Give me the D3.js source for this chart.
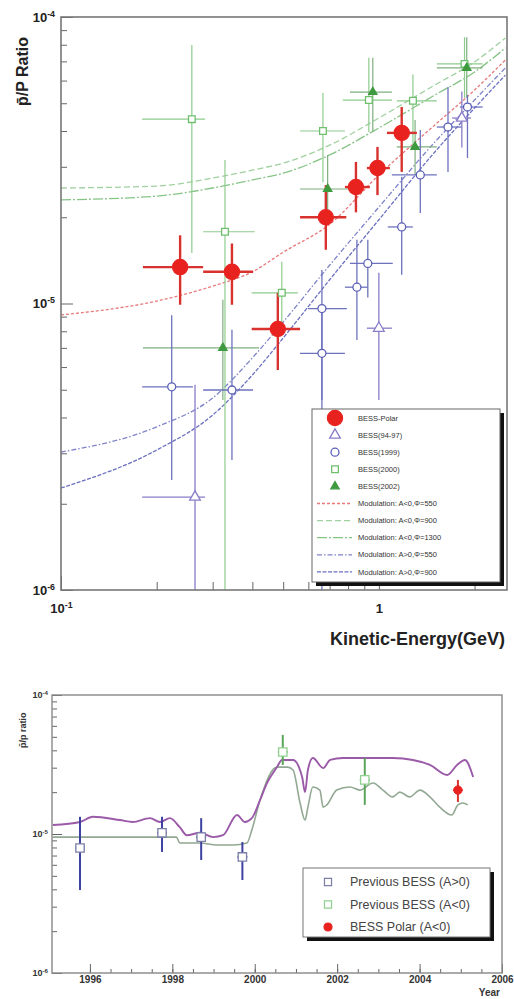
<!DOCTYPE html>
<html>
<head>
<meta charset="utf-8">
<script src="https://cdn.jsdelivr.net/npm/d3@7"></script>
<style>
  body { margin: 0; background: #fff; }
  svg { display: block; font-family: "Liberation Sans", Arial, sans-serif; }
</style>
</head>
<body>
<div id="chart"></div>
<script>
// ---- top panel data: [E, ratio, Elo, Ehi, ratioLo, ratioHi] ----
const bessPolar = [
    [0.237, 1.34e-5, 0.181, 0.280, 9.9e-6, 1.73e-5],
    [0.345, 1.29e-5, 0.280, 0.402, 9.9e-6, 1.62e-5],
    [0.481, 8.15e-6, 0.398, 0.565, 5.86e-6, 1.09e-5],
    [0.681, 2.0e-5, 0.565, 0.790, 1.54e-5, 2.59e-5],
    [0.847, 2.55e-5, 0.782, 0.937, 2.08e-5, 3.12e-5],
    [0.99, 2.97e-5, 0.917, 1.083, 2.39e-5, 3.52e-5],
    [1.18, 3.94e-5, 1.06, 1.317, 2.88e-5, 4.85e-5]
];
const bess9497 = [
    [0.264, 2.11e-6, 0.180, 0.284, 5e-7, 5.2e-6],
    [1.0, 8.2e-6, 0.917, 1.099, 4.6e-6, 1.28e-5],
    [1.824, 4.44e-5, 1.70, 1.95, 3.5e-5, 5.5e-5]
];
const bess1999 = [
    [0.223, 5.12e-6, 0.180, 0.260, 2.42e-6, 9.1e-6],
    [0.345, 4.99e-6, 0.280, 0.402, 2.84e-6, 8.1e-6],
    [0.662, 9.6e-6, 0.598, 0.793, 4.6e-6, 1.31e-5],
    [0.662, 6.7e-6, 0.565, 0.782, 5e-7, 9.6e-6],
    [0.853, 1.14e-5, 0.782, 0.923, 7.46e-6, 1.67e-5],
    [0.923, 1.38e-5, 0.811, 1.106, 1.05e-5, 1.67e-5],
    [1.18, 1.85e-5, 1.067, 1.279, 1.26e-5, 2.77e-5],
    [1.35, 2.81e-5, 1.099, 1.522, 2.07e-5, 4.03e-5],
    [1.65, 4.13e-5, 1.522, 1.824, 2.88e-5, 5.7e-5],
    [1.90, 4.85e-5, 1.798, 2.12, 3.22e-5, 5.34e-5]
];
const bess2000 = [
    [0.258, 4.4e-5, 0.180, 0.284, 1.5e-5, 7.98e-5],
    [0.328, 1.78e-5, 0.280, 0.407, 5e-7, 3.17e-5],
    [0.495, 1.09e-5, 0.398, 0.556, 8.1e-6, 1.4e-5],
    [0.667, 4.0e-5, 0.565, 0.782, 2.65e-5, 5.43e-5],
    [0.93, 5.13e-5, 0.77, 1.099, 3.97e-5, 7.2e-5],
    [1.28, 5.1e-5, 1.139, 1.522, 3.49e-5, 6.3e-5],
    [1.86, 6.86e-5, 1.522, 2.12, 5.22e-5, 8.5e-5]
];
const bess2002 = [
    [0.323, 7.0e-6, 0.181, 0.42, 4.6e-6, 1.03e-5],
    [0.69, 2.51e-5, 0.565, 0.853, 1.88e-5, 3.3e-5],
    [0.957, 5.47e-5, 0.811, 1.099, 3.97e-5, 7.2e-5],
    [1.30, 3.52e-5, 1.139, 1.522, 2.81e-5, 4.37e-5],
    [1.89, 6.64e-5, 1.522, 2.12, 5.22e-5, 8.5e-5]
];

// modulation model curves, sampled at modelEnergy
const modelEnergy = [0.1, 0.2, 0.3, 0.4, 0.5, 0.7, 1.0, 1.5, 2.0, 2.5];
const modRed = [9.12e-6, 1.02e-5, 1.15e-5, 1.29e-5, 1.51e-5, 1.89e-5, 2.81e-5, 4.2e-5, 5.56e-5, 7.08e-5];
const modGreenA = [2.53e-5, 2.57e-5, 2.74e-5, 2.92e-5, 3.09e-5, 3.57e-5, 4.44e-5, 5.79e-5, 6.97e-5, 8.45e-5];
const modGreenB = [2.30e-5, 2.37e-5, 2.53e-5, 2.70e-5, 2.85e-5, 3.30e-5, 4.10e-5, 5.34e-5, 6.43e-5, 7.79e-5];
const modBlueA = [3.03e-6, 3.71e-6, 4.68e-6, 6.46e-6, 8.62e-6, 1.36e-5, 2.17e-5, 3.66e-5, 5.13e-5, 6.64e-5];
const modBlueB = [2.27e-6, 3.08e-6, 4.08e-6, 5.63e-6, 7.58e-6, 1.21e-5, 1.96e-5, 3.38e-5, 4.81e-5, 6.27e-5];

const topLegendLabels = ["BESS-Polar", "BESS(94-97)", "BESS(1999)", "BESS(2000)", "BESS(2002)",
    "Modulation: A<0,\u03a6=550", "Modulation: A<0,\u03a6=900", "Modulation: A<0,\u03a6=1300",
    "Modulation: A>0,\u03a6=550", "Modulation: A>0,\u03a6=900"];

// ---- bottom panel data ----
const upperYears = [1995.1, 1995.76, 1996.07, 1996.73, 1997.04, 1997.46, 1997.7, 1997.94, 1998.18, 1998.35,
    1998.67, 1998.99, 1999.23, 1999.57, 1999.76, 1999.93, 2000.13, 2000.3, 2000.54, 2000.66, 2000.93,
    2001.15, 2001.22, 2001.29, 2001.41, 2001.66, 2001.83, 2002.14, 2002.72, 2003.35, 2003.84, 2004.25,
    2004.67, 2004.91, 2005.1, 2005.3];
const upperRatio = [1.16e-5, 1.22e-5, 1.33e-5, 1.26e-5, 1.22e-5, 1.30e-5, 1.22e-5, 1.30e-5, 1.12e-5, 9.8e-6,
    1.02e-5, 9.5e-6, 9.8e-6, 1.37e-5, 1.22e-5, 1.30e-5, 1.76e-5, 2.33e-5, 3.03e-5, 3.41e-5, 3.41e-5,
    2.57e-5, 2.0e-5, 2.89e-5, 3.52e-5, 2.98e-5, 3.41e-5, 3.52e-5, 3.52e-5, 3.52e-5, 3.41e-5, 3.14e-5,
    2.66e-5, 3.14e-5, 3.41e-5, 2.57e-5];
const lowerYears = [1995.1, 1998.1, 1998.18, 1998.67, 1999.08, 1999.47, 1999.81, 1999.93, 2000.13, 2000.54,
    2000.8, 2000.93, 2001.1, 2001.22, 2001.29, 2001.41, 2001.58, 2001.66, 2001.75, 2001.99, 2002.31,
    2002.55, 2002.87, 2003.11, 2003.35, 2003.52, 2003.76, 2004.01, 2004.25, 2004.49, 2004.78, 2004.93,
    2005.05, 2005.17];
const lowerRatio = [9.5e-6, 9.5e-6, 8.61e-6, 8.61e-6, 8.33e-6, 8.33e-6, 8.61e-6, 1.07e-5, 1.76e-5, 3.03e-5,
    3.03e-5, 2.89e-5, 1.67e-5, 1.26e-5, 1.56e-5, 2.18e-5, 2.07e-5, 1.56e-5, 1.62e-5, 2.07e-5, 2.18e-5,
    2.07e-5, 2.33e-5, 2.07e-5, 1.85e-5, 2.0e-5, 1.85e-5, 2.07e-5, 1.85e-5, 1.56e-5, 1.37e-5, 1.62e-5,
    1.67e-5, 1.62e-5];
// [year, ratio, lo, hi]
const prevPos = [[1995.76, 7.93e-6, 3.95e-6, 1.33e-5], [1997.75, 1.02e-5, 7.43e-6, 1.33e-5],
    [1998.7, 9.5e-6, 6.5e-6, 1.30e-5], [1999.7, 6.84e-6, 4.67e-6, 8.76e-6]];
const prevNeg = [[2000.68, 3.89e-5, 3.14e-5, 5.16e-5], [2002.67, 2.45e-5, 1.62e-5, 3.52e-5]];
const polarNeg = [[2004.93, 2.07e-5, 1.70e-5, 2.45e-5]];
const bottomLegendLabels = ["Previous BESS (A>0)", "Previous BESS (A<0)", "BESS Polar (A<0)"];
const yearTicks = [1996, 1998, 2000, 2002, 2004, 2006];

document.addEventListener("DOMContentLoaded", () => {
    const W = 514, H = 999;
    const red = "#e8231f", green = "#6fbf6f", blue = "#5b60b5", violet = "#8a7cc8";

    const svg = d3.select("#chart").append("svg")
    .attr("width", W)
    .attr("height", H);

    const supLabel = (sel, exp) => {
        sel.text("10");
        sel.append("tspan").attr("dy", "-0.55em").style("font-size", "0.68em").text(exp);
    };

    // ================= top panel =================
    const T = { left: 61, right: 507, top: 17, bottom: 590 };
    const xE = d3.scaleLog().domain([0.1, 2.53]).range([T.left, T.right]);
    const yR = d3.scaleLog().domain([1e-6, 1e-4]).range([T.bottom, T.top]);

    svg.append("clipPath").attr("id", "clipTop")
    .append("rect")
    .attr("x", T.left).attr("y", T.top)
    .attr("width", T.right - T.left).attr("height", T.bottom - T.top);

    const plot = svg.append("g").attr("clip-path", "url(#clipTop)");

    const models = [
        { vals: modGreenA, color: "#9fd09f", dash: "6,3" },
        { vals: modGreenB, color: "#86c486", dash: "10,2,2,2" },
        { vals: modRed, color: "#e8787a", dash: "3,2" },
        { vals: modBlueA, color: "#7f84c8", dash: "5,2,1.5,2" },
        { vals: modBlueB, color: "#6a70bf", dash: "4,1.5" }
    ];
    const modelLine = d3.line()
    .x(d => xE(d[0]))
    .y(d => yR(d[1]))
    .curve(d3.curveMonotoneX);

    plot.selectAll("path.model")
    .data(models)
    .enter()
    .append("path")
    .attr("class", "model")
    .attr("d", m => modelLine(modelEnergy.map((e, i) => [e, m.vals[i]])))
    .attr("fill", "none")
    .attr("stroke", m => m.color)
    .attr("stroke-width", 1.3)
    .attr("stroke-dasharray", m => m.dash);

    const errBars = (data, color, width) => {
        const g = plot.append("g").attr("stroke", color).attr("stroke-width", width);
        g.selectAll("line.h").data(data).enter().append("line")
        .attr("x1", d => xE(d[2])).attr("x2", d => xE(d[3]))
        .attr("y1", d => yR(d[1])).attr("y2", d => yR(d[1]));
        g.selectAll("line.v").data(data).enter().append("line")
        .attr("x1", d => xE(d[0])).attr("x2", d => xE(d[0]))
        .attr("y1", d => yR(d[4])).attr("y2", d => yR(d[5]));
    };
    errBars(bess2000, "#8dcc8d", 1.2);
    errBars(bess2002, "#7fae7f", 1.2);
    errBars(bess1999, "#6d72bd", 1.3);
    errBars(bess9497, violet, 1.3);
    errBars(bessPolar, "#d8322e", 2.4);

    const markers = (data, type, size, stroke, fill) => {
        plot.append("g").selectAll("path").data(data).enter().append("path")
        .attr("d", d3.symbol().type(type).size(size))
        .attr("transform", d => `translate(${xE(d[0])}, ${yR(d[1])})`)
        .attr("fill", fill)
        .attr("stroke", stroke)
        .attr("stroke-width", 1.3);
    };
    markers(bess2000, d3.symbolSquare, 45, green, "white");
    markers(bess2002, d3.symbolTriangle, 30, "#3f9a3f", "#3f9a3f");
    markers(bess1999, d3.symbolCircle, 50, blue, "white");
    markers(bess9497, d3.symbolTriangle, 50, violet, "white");
    markers(bessPolar, d3.symbolCircle, 180, red, red);

    // axes
    const xMinor = [0.2, 0.3, 0.4, 0.5, 0.6, 0.7, 0.8, 0.9, 2];
    const xAx = svg.append("g")
    .attr("transform", `translate(0, ${T.bottom})`)
    .call(d3.axisBottom(xE).tickValues(xMinor).tickSize(-8).tickFormat(""));
    xAx.select(".domain").remove();

    const xMaj = svg.append("g")
    .attr("transform", `translate(0, ${T.bottom})`)
    .call(d3.axisBottom(xE).tickValues([0.1, 1]).tickSize(-14).tickPadding(14));
    xMaj.select(".domain").remove();
    xMaj.selectAll("text")
    .style("font-size", "13px").style("font-weight", "bold").attr("fill", "#222")
    .each(function (d) {
        if (d < 0.5) supLabel(d3.select(this), "-1"); else d3.select(this).text("1");
    });

    const yMinor = [];
    [1e-6, 1e-5].forEach(b => { for (let k = 2; k <= 9; k++) yMinor.push(b * k); });
    const yAx = svg.append("g")
    .attr("transform", `translate(${T.left}, 0)`)
    .call(d3.axisLeft(yR).tickValues(yMinor).tickSize(-6).tickFormat(""));
    yAx.select(".domain").remove();

    const yMaj = svg.append("g")
    .attr("transform", `translate(${T.left}, 0)`)
    .call(d3.axisLeft(yR).tickValues([1e-6, 1e-5, 1e-4]).tickSize(-12).tickPadding(6));
    yMaj.select(".domain").remove();
    yMaj.selectAll("text")
    .style("font-size", "13px").style("font-weight", "bold").attr("fill", "#222")
    .each(function (d) { supLabel(d3.select(this), String(Math.round(Math.log10(d)))); });

    svg.selectAll(".tick line").attr("stroke", "#666");

    svg.append("rect")
    .attr("x", T.left).attr("y", T.top)
    .attr("width", T.right - T.left).attr("height", T.bottom - T.top)
    .attr("fill", "none").attr("stroke", "#777").attr("stroke-width", 1.6);

    svg.append("text")
    .text("p\u0304/P Ratio")
    .attr("transform", "translate(28, 37) rotate(-90)")
    .style("text-anchor", "end")
    .style("font-size", "16px")
    .style("font-weight", "bold")
    .attr("fill", "#222");

    svg.append("text")
    .text("Kinetic-Energy(GeV)")
    .attr("x", 505).attr("y", 645)
    .style("text-anchor", "end")
    .style("font-size", "18px")
    .style("font-weight", "bold")
    .attr("fill", "#222");

    // top legend
    const L = { x: 312, y: 409, w: 188, h: 173 };
    svg.append("rect").attr("x", L.x + 4).attr("y", L.y + 4).attr("width", L.w).attr("height", L.h).attr("fill", "#111");
    svg.append("rect").attr("x", L.x).attr("y", L.y).attr("width", L.w).attr("height", L.h)
    .attr("fill", "white").attr("stroke", "#666").attr("stroke-width", 1);

    const legendSym = [
        { type: d3.symbolCircle, size: 180, stroke: red, fill: red },
        { type: d3.symbolTriangle, size: 50, stroke: violet, fill: "white" },
        { type: d3.symbolCircle, size: 50, stroke: blue, fill: "white" },
        { type: d3.symbolSquare, size: 45, stroke: green, fill: "white" },
        { type: d3.symbolTriangle, size: 30, stroke: "#3f9a3f", fill: "#3f9a3f" }
    ];
    const legendLines = [models[2], models[0], models[1], models[3], models[4]];

    const rows = svg.append("g").attr("id", "legend")
    .selectAll("g")
    .data(topLegendLabels)
    .enter()
    .append("g")
    .attr("transform", (_, i) => `translate(0, ${418 + i * 17.1})`);

    rows.each(function (_, i) {
        const row = d3.select(this);
        if (i < 5) {
            const s = legendSym[i];
            row.append("path")
            .attr("d", d3.symbol().type(s.type).size(s.size)())
            .attr("transform", "translate(335, 0)")
            .attr("fill", s.fill)
            .attr("stroke", s.stroke)
            .attr("stroke-width", 1.3);
        } else {
            const m = legendLines[i - 5];
            row.append("line")
            .attr("x1", 317).attr("x2", 352)
            .attr("stroke", m.color)
            .attr("stroke-width", 1.3)
            .attr("stroke-dasharray", m.dash);
        }
    });

    rows.append("text")
    .text(d => d)
    .attr("x", 358).attr("dy", "0.35em")
    .style("font-size", "7.5px")
    .attr("fill", "#333");

    // ================= bottom panel =================
    const B = { left: 52, right: 502, top: 695, bottom: 973 };
    const xY = d3.scaleLinear().domain([1995.08, 2006]).range([B.left, B.right]);
    const yB = d3.scaleLog().domain([1e-6, 1e-4]).range([B.bottom, B.top]);

    const tl = d3.line().x(d => xY(d[0])).y(d => yB(d[1])).curve(d3.curveMonotoneX);

    svg.append("path")
    .attr("d", tl(lowerYears.map((y, i) => [y, lowerRatio[i]])))
    .attr("fill", "none").attr("stroke", "#93a893").attr("stroke-width", 1.6);
    svg.append("path")
    .attr("d", tl(upperYears.map((y, i) => [y, upperRatio[i]])))
    .attr("fill", "none").attr("stroke", "#9a5aa8").attr("stroke-width", 1.9);

    const pts = (data, barColor, draw) => {
        const g = svg.append("g");
        g.selectAll("line.v").data(data).enter().append("line")
        .attr("x1", d => xY(d[0])).attr("x2", d => xY(d[0]))
        .attr("y1", d => yB(d[2])).attr("y2", d => yB(d[3]))
        .attr("stroke", barColor).attr("stroke-width", 2);
        g.selectAll("line.h").data(data).enter().append("line")
        .attr("x1", d => xY(d[0]) - 5).attr("x2", d => xY(d[0]) + 5)
        .attr("y1", d => yB(d[1])).attr("y2", d => yB(d[1]))
        .attr("stroke", barColor).attr("stroke-width", 1.5);
        draw(g.selectAll("path").data(data).enter().append("path")
        .attr("transform", d => `translate(${xY(d[0])}, ${yB(d[1])})`));
    };
    pts(prevPos, "#3d42a0", s => s
        .attr("d", d3.symbol().type(d3.symbolSquare).size(70))
        .attr("fill", "white").attr("stroke", "#7a7ea8").attr("stroke-width", 1.3));
    pts(prevNeg, "#5aa55a", s => s
        .attr("d", d3.symbol().type(d3.symbolSquare).size(70))
        .attr("fill", "white").attr("stroke", "#8fd08f").attr("stroke-width", 1.3));
    pts(polarNeg, "#d8322e", s => s
        .attr("d", d3.symbol().type(d3.symbolCircle).size(55))
        .attr("fill", red).attr("stroke", red));

    const bx = svg.append("g")
    .attr("transform", `translate(0, ${B.bottom})`)
    .call(d3.axisBottom(xY).tickValues(d3.range(1996, 2006, 0.5)).tickSize(-4).tickFormat(""));
    bx.select(".domain").remove();
    const bxMaj = svg.append("g")
    .attr("transform", `translate(0, ${B.bottom})`)
    .call(d3.axisBottom(xY).tickValues(yearTicks).tickSize(-9).tickPadding(3).tickFormat(d3.format("d")));
    bxMaj.select(".domain").remove();
    bxMaj.selectAll("text").style("font-size", "10px").style("font-weight", "bold").attr("fill", "#333");

    const by = svg.append("g")
    .attr("transform", `translate(${B.left}, 0)`)
    .call(d3.axisLeft(yB).tickValues(yMinor).tickSize(-5).tickFormat(""));
    by.select(".domain").remove();
    const byMaj = svg.append("g")
    .attr("transform", `translate(${B.left}, 0)`)
    .call(d3.axisLeft(yB).tickValues([1e-6, 1e-5, 1e-4]).tickSize(-10).tickPadding(4));
    byMaj.select(".domain").remove();
    byMaj.selectAll("text")
    .style("font-size", "9px").style("font-weight", "bold").attr("fill", "#333")
    .each(function (d) { supLabel(d3.select(this), String(Math.round(Math.log10(d)))); });

    svg.selectAll(".tick line").attr("stroke", "#666");

    svg.append("rect")
    .attr("x", B.left).attr("y", B.top)
    .attr("width", B.right - B.left).attr("height", B.bottom - B.top)
    .attr("fill", "none").attr("stroke", "#888").attr("stroke-width", 1.4);

    svg.append("text")
    .text("p\u0304/p ratio")
    .attr("transform", "translate(26, 748) rotate(-90)")
    .style("font-size", "9px")
    .style("font-weight", "bold")
    .attr("fill", "#333");

    svg.append("text")
    .text("Year")
    .attr("x", 500).attr("y", 996)
    .style("text-anchor", "end")
    .style("font-size", "10px")
    .style("font-weight", "bold")
    .attr("fill", "#333");

    // bottom legend
    const BL = { x: 303, y: 868, w: 187, h: 69 };
    svg.append("rect").attr("x", BL.x + 4).attr("y", BL.y + 4).attr("width", BL.w).attr("height", BL.h).attr("fill", "#111");
    svg.append("rect").attr("x", BL.x).attr("y", BL.y).attr("width", BL.w).attr("height", BL.h)
    .attr("fill", "white").attr("stroke", "#777").attr("stroke-width", 1);

    const bSym = [
        { type: d3.symbolSquare, stroke: "#7a7ea8", fill: "white" },
        { type: d3.symbolSquare, stroke: "#8fd08f", fill: "white" },
        { type: d3.symbolCircle, stroke: red, fill: red }
    ];
    const bRows = svg.append("g").selectAll("g")
    .data(bottomLegendLabels)
    .enter()
    .append("g")
    .attr("transform", (_, i) => `translate(0, ${882 + i * 22.5})`);
    bRows.append("path")
    .attr("d", (_, i) => d3.symbol().type(bSym[i].type).size(50)())
    .attr("transform", "translate(328, 0)")
    .attr("fill", (_, i) => bSym[i].fill)
    .attr("stroke", (_, i) => bSym[i].stroke)
    .attr("stroke-width", 1.2);
    bRows.append("text")
    .text(d => d)
    .attr("x", 350).attr("dy", "0.35em")
    .style("font-size", "12.5px")
    .attr("fill", "#444");
});
</script>
</body>
</html>
